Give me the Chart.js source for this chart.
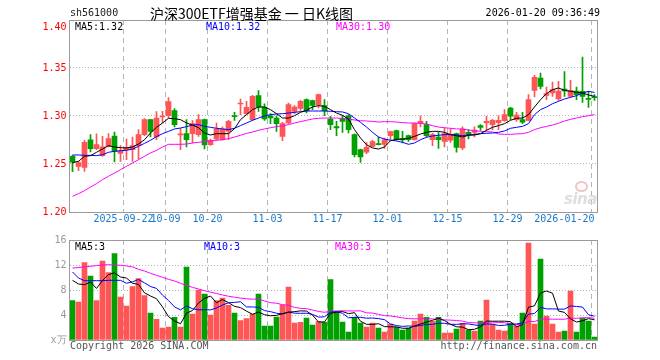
<!DOCTYPE html>
<html>
<head>
<meta charset="utf-8">
<script src="https://cdn.jsdelivr.net/npm/chart.js@4.4.1/dist/chart.umd.min.js"></script>
<style>
  body { margin: 0; background: #fff; }
  #wrap { position: relative; width: 660px; height: 360px; overflow: hidden; }
  canvas { position: absolute; left: 0; }
  #price { top: 0; }
  #vol { top: 230px; }
  .t { position: absolute; font: 10px "DejaVu Sans Mono", monospace; line-height: 12px; white-space: pre; }
  #title { font: 14px "Noto Sans CJK SC", sans-serif; line-height: 18px; color: #000; }
  #mark { font: italic bold 15px "DejaVu Sans", sans-serif; color: #dedede; letter-spacing: -0.5px; }
  #eye { position: absolute; left: 575px; top: 181px; width: 9px; height: 7px; border-radius: 50%; border: 2px solid #f2c4c4; }
</style>
</head>
<body>
<div id="wrap">
  <canvas id="price" width="660" height="230"></canvas>
  <canvas id="vol" width="660" height="130"></canvas>

  <div class="t" style="left:70px; top:7px; color:#222;">sh561000</div>
  <div class="t" id="title" style="left:150px; top:4px;">沪深300ETF增强基金 一 日K线图</div>
  <div class="t" style="right:60px; top:7px; color:#000;">2026-01-20 09:36:49</div>

  <div class="t" id="pMa5" style="left:75px; top:21px; color:#000;"></div>
  <div class="t" id="pMa10" style="left:206px; top:21px; color:#0000ff;"></div>
  <div class="t" id="pMa30" style="left:336px; top:21px; color:#ff00ff;"></div>

  <div class="t" id="vMa5" style="left:75px; top:241px; color:#000;"></div>
  <div class="t" id="vMa10" style="left:204px; top:241px; color:#0000ff;"></div>
  <div class="t" id="vMa30" style="left:335px; top:241px; color:#ff00ff;"></div>

  <div id="eye"></div>
  <div class="t" id="mark" style="left:564px; top:190px;">sina</div>

  <div class="t" style="left:70px; top:340px; color:#555;">Copyright 2026 SINA.COM</div>
  <div class="t" style="right:63px; top:340px; color:#555;">http://finance.sina.com.cn</div>
</div>

<script>
// 交易日
const dates = [
  '2025-09-09','2025-09-10','2025-09-11','2025-09-12','2025-09-15','2025-09-16','2025-09-17','2025-09-18','2025-09-19',
  '2025-09-22','2025-09-23','2025-09-24','2025-09-25','2025-09-26','2025-09-29','2025-09-30',
  '2025-10-09','2025-10-10','2025-10-13','2025-10-14','2025-10-15','2025-10-16','2025-10-17','2025-10-20','2025-10-21',
  '2025-10-22','2025-10-23','2025-10-24','2025-10-27','2025-10-28','2025-10-29','2025-10-30','2025-10-31',
  '2025-11-03','2025-11-04','2025-11-05','2025-11-06','2025-11-07','2025-11-10','2025-11-11','2025-11-12','2025-11-13',
  '2025-11-14','2025-11-17','2025-11-18','2025-11-19','2025-11-20','2025-11-21','2025-11-24','2025-11-25','2025-11-26',
  '2025-11-27','2025-11-28',
  '2025-12-01','2025-12-02','2025-12-03','2025-12-04','2025-12-05','2025-12-08','2025-12-09','2025-12-10','2025-12-11',
  '2025-12-12','2025-12-15','2025-12-16','2025-12-17','2025-12-18','2025-12-19','2025-12-22','2025-12-23','2025-12-24',
  '2025-12-25','2025-12-26','2025-12-29','2025-12-30','2025-12-31',
  '2026-01-05','2026-01-06','2026-01-07','2026-01-08','2026-01-09','2026-01-12','2026-01-13','2026-01-14','2026-01-15',
  '2026-01-16','2026-01-19','2026-01-20'
];

const opens = [
  1.258, 1.2476, 1.2465, 1.2753, 1.266, 1.2587, 1.2684, 1.2792, 1.2611, 1.265,
  1.265, 1.2691, 1.2806, 1.2962, 1.2781, 1.299, 1.3003, 1.3056, 1.2802, 1.2816,
  1.2816, 1.2806, 1.2962, 1.2701, 1.276, 1.2753, 1.284, 1.2997, 1.3125, 1.3024,
  1.2962, 1.3212, 1.3094, 1.3003, 1.2979, 1.2788, 1.2927, 1.3049, 1.308, 1.317,
  1.316, 1.3118, 1.3108, 1.2969, 1.2889, 1.2972, 1.3003, 1.2806, 1.265, 1.2622,
  1.2684, 1.2708, 1.2705, 1.2795, 1.2847, 1.2764, 1.2795, 1.2753, 1.292, 1.291,
  1.2753, 1.2781, 1.2736, 1.2747, 1.2816, 1.2667, 1.283, 1.283, 1.29, 1.2927,
  1.291, 1.2931, 1.2951, 1.3083, 1.2962, 1.2962, 1.2955, 1.3267, 1.3396, 1.3215,
  1.324, 1.3177, 1.3281, 1.3205, 1.326, 1.3257, 1.318, 1.3198
];
const highs = [
  1.259, 1.2528, 1.2747, 1.2806, 1.2813, 1.2788, 1.2816, 1.2833, 1.2691, 1.276,
  1.2781, 1.2858, 1.2972, 1.2965, 1.3045, 1.3049, 1.3191, 1.3076, 1.2872, 1.2962,
  1.2951, 1.3014, 1.2969, 1.276, 1.2927, 1.2886, 1.2955, 1.3038, 1.3177, 1.3153,
  1.3215, 1.3264, 1.3128, 1.3024, 1.3003, 1.2934, 1.3135, 1.3108, 1.3163, 1.318,
  1.3167, 1.3229, 1.317, 1.2997, 1.2944, 1.3007, 1.3014, 1.2813, 1.2656, 1.2726,
  1.2747, 1.2781, 1.2771, 1.2844, 1.2854, 1.284, 1.2802, 1.2927, 1.3003, 1.2944,
  1.2823, 1.283, 1.2875, 1.2868, 1.2823, 1.2886, 1.2858, 1.2886, 1.291, 1.2997,
  1.2965, 1.3003, 1.3066, 1.309, 1.3038, 1.3038, 1.3222, 1.3424, 1.3448, 1.3302,
  1.3354, 1.3361, 1.3462, 1.3372, 1.3302, 1.3615, 1.3257, 1.3222
];
const lows = [
  1.242, 1.243, 1.2424, 1.2625, 1.265, 1.258, 1.2677, 1.2521, 1.2528, 1.2545,
  1.2528, 1.2552, 1.2795, 1.2781, 1.2753, 1.2927, 1.2979, 1.2885, 1.265, 1.2677,
  1.2719, 1.2788, 1.2656, 1.2694, 1.2747, 1.2747, 1.2753, 1.2955, 1.3014, 1.3014,
  1.2955, 1.3049, 1.2955, 1.292, 1.284, 1.2743, 1.292, 1.3024, 1.3059, 1.3031,
  1.3066, 1.3083, 1.3003, 1.2858, 1.2795, 1.283, 1.2823, 1.2573, 1.2517, 1.2608,
  1.2677, 1.2698, 1.2663, 1.2747, 1.2747, 1.2719, 1.2736, 1.2747, 1.2885, 1.2781,
  1.2691, 1.2663, 1.2677, 1.2726, 1.2622, 1.265, 1.276, 1.2781, 1.2851, 1.2851,
  1.2858, 1.2858, 1.2944, 1.2962, 1.2944, 1.292, 1.2948, 1.3198, 1.3281, 1.317,
  1.3205, 1.3163, 1.3205, 1.3198, 1.317, 1.3142, 1.309, 1.3163
];
const closes = [
  1.252, 1.2514, 1.2726, 1.266, 1.2701, 1.268, 1.2764, 1.2632, 1.2635, 1.2674,
  1.2691, 1.2806, 1.2962, 1.284, 1.2979, 1.300, 1.3149, 1.291, 1.2813, 1.2753,
  1.292, 1.2962, 1.2698, 1.2747, 1.2865, 1.2865, 1.2944, 1.2993, 1.3132, 1.309,
  1.3205, 1.3094, 1.2969, 1.2979, 1.292, 1.292, 1.3118, 1.3094, 1.3153, 1.3056,
  1.3111, 1.3222, 1.3056, 1.291, 1.2875, 1.2944, 1.2858, 1.2597, 1.2573, 1.2674,
  1.2733, 1.2701, 1.2753, 1.2837, 1.2753, 1.275, 1.2753, 1.292, 1.2944, 1.2795,
  1.2806, 1.2753, 1.2816, 1.2806, 1.2674, 1.2865, 1.2806, 1.2854, 1.2882, 1.2944,
  1.2955, 1.2955, 1.3014, 1.2997, 1.301, 1.2937, 1.317, 1.3403, 1.3309, 1.3233,
  1.3274, 1.326, 1.326, 1.3267, 1.3222, 1.3205, 1.3174, 1.3191
];

// 均线
const ma5 = [
  1.2514, 1.2528, 1.258, 1.2587, 1.2622, 1.2656, 1.2691, 1.2677, 1.267, 1.2667,
  1.2677, 1.2708, 1.2753, 1.2823, 1.2882, 1.2927, 1.2976, 1.2972, 1.2962, 1.2927,
  1.2906, 1.2878, 1.2823, 1.2802, 1.2816, 1.2816, 1.2816, 1.2868, 1.2962, 1.3014,
  1.3066, 1.3094, 1.3094, 1.3066, 1.3024, 1.2979, 1.2979, 1.3003, 1.3038, 1.3059,
  1.3094, 1.3108, 1.3101, 1.3066, 1.3031, 1.3007, 1.2969, 1.2858, 1.2771, 1.2701,
  1.2667, 1.2656, 1.2677, 1.2743, 1.2757, 1.276, 1.2767, 1.2788, 1.2812, 1.283,
  1.284, 1.284, 1.283, 1.2806, 1.2795, 1.2781, 1.2799, 1.2802, 1.2816, 1.2851,
  1.2882, 1.29, 1.292, 1.2955, 1.2976, 1.2979, 1.3014, 1.3094, 1.317, 1.3233,
  1.3274, 1.3292, 1.3267, 1.3257, 1.3247, 1.324, 1.3219, 1.3205
];
const ma10 = [
  1.2594, 1.2594, 1.259, 1.259, 1.2587, 1.2597, 1.2622, 1.2632, 1.2639, 1.2642,
  1.2656, 1.2684, 1.2715, 1.2747, 1.2785, 1.2816, 1.284, 1.2865, 1.2875, 1.2889,
  1.2906, 1.291, 1.2892, 1.2882, 1.2872, 1.2865, 1.2858, 1.2872, 1.29, 1.2927,
  1.2955, 1.2979, 1.30, 1.3014, 1.3021, 1.3024, 1.3031, 1.3038, 1.3045, 1.3052,
  1.3052, 1.3052, 1.3052, 1.3049, 1.3045, 1.3042, 1.3024, 1.2979, 1.2934, 1.2885,
  1.283, 1.2781, 1.276, 1.2747, 1.274, 1.2726, 1.2705, 1.2719, 1.2753, 1.2778,
  1.2792, 1.2799, 1.2806, 1.2806, 1.2802, 1.2795, 1.2802, 1.2809, 1.2816, 1.282,
  1.2823, 1.283, 1.2844, 1.2872, 1.2882, 1.2892, 1.292, 1.3014, 1.3066, 1.3094,
  1.3128, 1.3153, 1.3177, 1.3194, 1.3212, 1.324, 1.3257, 1.3245
];
const ma30 = [
  1.2163, 1.2191, 1.2222, 1.226, 1.2295, 1.2337, 1.2372, 1.2406, 1.2441, 1.2476,
  1.251, 1.2545, 1.258, 1.2615, 1.2642, 1.2677, 1.2705, 1.2705, 1.2705, 1.2708,
  1.2719, 1.2726, 1.2733, 1.274, 1.2747, 1.2753, 1.2764, 1.2781, 1.2799, 1.2819,
  1.2833, 1.2851, 1.2865, 1.2878, 1.2889, 1.2899, 1.291, 1.2927, 1.2941, 1.2955,
  1.2969, 1.2976, 1.2979, 1.2979, 1.2979, 1.2976, 1.2969, 1.2958, 1.2951, 1.2948,
  1.2944, 1.2937, 1.2941, 1.2941, 1.2937, 1.2931, 1.2927, 1.2927, 1.2924, 1.2917,
  1.2899, 1.2885, 1.2878, 1.2872, 1.2865, 1.2865, 1.2854, 1.2847, 1.284, 1.2837,
  1.2833, 1.2813, 1.2809, 1.2809, 1.2813, 1.2816, 1.283, 1.2858, 1.2878, 1.2892,
  1.2906, 1.2924, 1.2948, 1.2965, 1.2979, 1.2993, 1.3003, 1.3014
];

// 成交量 (万)
const volumes = [
  6.29, 6.08, 12.37, 10.24, 6.29, 12.64, 10.77, 13.81, 6.88, 5.44,
  8.53, 9.81, 7.09, 4.32, 3.31, 1.92, 2.08, 3.63, 2.08, 11.68,
  4.16, 8.0, 7.36, 4.0, 6.29, 6.72, 5.55, 4.32, 3.09, 3.41,
  4.16, 7.36, 2.24, 2.24, 3.68, 5.6, 8.48, 2.72, 2.83, 3.52,
  2.4, 2.93, 2.83, 9.65, 4.48, 2.88, 1.28, 3.63, 2.72, 2.08,
  2.72, 1.92, 1.28, 2.56, 2.03, 1.6, 1.92, 3.04, 4.16, 3.63,
  2.99, 3.63, 1.12, 1.12, 1.76, 2.67, 1.6, 1.44, 3.04, 6.4,
  2.56, 1.6, 1.44, 2.72, 2.24, 4.32, 15.52, 2.56, 12.96, 3.84,
  2.56, 1.28, 1.44, 7.84, 1.28, 3.52, 3.04, 0.48
];
const volMa5 = [
  9.55, 8.96, 8.85, 9.28, 8.25, 9.52, 10.46, 10.75, 10.08, 9.91,
  9.09, 8.89, 7.55, 7.04, 6.61, 5.29, 3.74, 3.05, 2.60, 4.28,
  4.73, 5.91, 6.66, 7.04, 5.96, 6.47, 5.98, 5.38, 5.19, 4.62,
  4.11, 4.47, 4.05, 3.88, 3.94, 4.22, 4.45, 4.54, 4.66, 4.63,
  3.99, 2.88, 2.90, 4.27, 4.46, 4.55, 4.22, 4.38, 3.00, 2.52,
  2.49, 2.61, 2.14, 2.11, 2.10, 1.88, 1.88, 2.23, 2.55, 2.87,
  3.15, 3.49, 3.11, 2.50, 2.12, 2.06, 1.65, 1.72, 2.10, 3.03,
  3.01, 3.01, 3.01, 2.94, 2.11, 2.46, 5.25, 5.47, 7.52, 7.84,
  7.49, 4.64, 4.42, 3.39, 2.88, 3.07, 3.42, 3.23
];
const volMa10 = [
  10.88, 9.92, 9.49, 9.49, 9.49, 9.49, 9.55, 9.55, 9.55, 9.08,
  9.31, 9.68, 9.15, 8.56, 8.26, 7.19, 6.32, 5.30, 4.82, 5.45,
  5.01, 4.83, 4.85, 4.82, 5.12, 5.60, 5.95, 6.02, 6.12, 5.29,
  5.29, 5.23, 4.71, 4.54, 4.28, 4.17, 4.46, 4.30, 4.27, 4.28,
  4.11, 3.66, 3.72, 4.46, 4.54, 4.27, 3.55, 3.64, 3.63, 3.49,
  3.52, 3.42, 3.26, 2.56, 2.31, 2.18, 2.25, 2.19, 2.33, 2.49,
  2.51, 2.68, 2.67, 2.52, 2.50, 2.60, 2.57, 2.41, 2.30, 2.58,
  2.53, 2.33, 2.36, 2.52, 2.57, 2.74, 4.13, 4.24, 5.23, 4.98,
  4.98, 4.94, 4.94, 5.46, 5.36, 5.28, 4.03, 3.82
];
const volMa30 = [
  11.5, 11.6, 11.7, 11.8, 11.9, 12.0, 12.05, 12.0, 11.95, 11.85,
  11.7, 11.31, 11.04, 10.67, 10.35, 10.03, 9.71, 9.44, 9.07, 8.75,
  8.43, 8.16, 7.89, 7.65, 7.45, 7.2, 7.0, 6.85, 6.7, 6.61,
  6.53, 6.58, 6.24, 5.97, 5.89, 5.65, 5.57, 5.21, 5.07, 5.01,
  4.80, 4.57, 4.43, 4.61, 4.65, 4.68, 4.65, 4.65, 4.67, 4.35,
  4.31, 4.10, 3.90, 3.85, 3.71, 3.54, 3.42, 3.38, 3.41, 3.42,
  3.38, 3.26, 3.22, 3.18, 3.12, 3.02, 2.79, 2.75, 2.75, 2.85,
  2.86, 2.81, 2.77, 2.53, 2.46, 2.51, 2.98, 2.95, 3.29, 3.35,
  3.34, 3.32, 3.33, 3.50, 3.48, 3.54, 3.58, 3.49
];

// 坐标轴刻度
const tickDates = ['2025-09-22','2025-10-09','2025-10-20','2025-11-03','2025-11-17','2025-12-01','2025-12-15','2025-12-29','2026-01-20'];
const tickLabels = ['2025-09-22','10-09','10-20','11-03','11-17','12-01','12-15','12-29','2026-01-20'];
const priceTicks = [1.20, 1.25, 1.30, 1.35, 1.40];
const volTicks = [0, 4, 8, 12, 16];

/*-----------------------*/

const upColor = '#ff5555';
const downColor = '#00a000';
const gridColor = '#b4b4b4';
const clear = 'rgba(0,0,0,0)';
const candleColors = closes.map((c, i) => c >= opens[i] ? upColor : downColor);

Chart.defaults.font.family = '"DejaVu Sans Mono", monospace';
Chart.defaults.font.size = 10;

// x 轴: 每根K线占一格, K线画在格子中间, 竖线画在格子左边
const gridIdx = tickDates.map(d => dates.indexOf(d));
const gridSet = new Set(gridIdx);
const lastIdx = gridIdx[gridIdx.length - 1];
const xLabels = new Map();
gridIdx.forEach((idx, k) => xLabels.set(idx, k < gridIdx.length - 1 ? tickLabels[k] : ''));
xLabels.set(lastIdx + 0.5, tickLabels[tickLabels.length - 1]);
const xTickValues = [0, ...gridIdx, lastIdx + 0.5];

// 最上面的价格标签往下挪一点 (和原图一样不贴着外框)
const priceMax = priceTicks[priceTicks.length - 1];
const topLabelValue = priceMax - 0.0072;

const toPoints = arr => arr.map((v, i) => ({ x: i + 0.5, y: v }));
const truncate = (v, n) => (Math.floor(v * Math.pow(10, n) + 1e-9) / Math.pow(10, n)).toFixed(n);

// 外框
const boxPlugin = {
    id: 'box',
    afterDraw(chart) {
        const a = chart.chartArea;
        const ctx = chart.ctx;
        ctx.save();
        ctx.strokeStyle = '#9a9a9a';
        ctx.lineWidth = 1;
        const x0 = Math.floor(a.left) + 0.5, y0 = Math.floor(a.top) + 0.5;
        const x1 = Math.floor(a.right) + 0.5, y1 = Math.floor(a.bottom) + 0.5;
        ctx.strokeRect(x0, y0, x1 - x0, y1 - y0);
        ctx.restore();
    }
};

const lineSet = (data, color) => ({
    type: 'line',
    data: toPoints(data),
    borderColor: color,
    borderWidth: 1,
    pointRadius: 0,
    tension: 0,
    order: 1
});

const xAxis = (showLabels) => ({
    type: 'linear',
    min: 0,
    max: dates.length,
    offset: false,
    afterBuildTicks: s => { s.ticks = (showLabels ? xTickValues : gridIdx).map(v => ({ value: v })); },
    afterFit: s => { s.height = showLabels ? 18 : 20; },
    grid: {
        offset: false,
        drawTicks: false,
        color: c => (c.tick && gridSet.has(c.tick.value)) ? gridColor : clear
    },
    border: { display: false, dash: [5, 4] },
    ticks: {
        display: showLabels,
        autoSkip: false,
        maxRotation: 0,
        align: 'inner',
        padding: 1,
        color: '#1a78c8',
        callback: v => xLabels.has(v) ? xLabels.get(v) : ''
    }
});

// K线图
const priceChart = new Chart(document.getElementById('price'), {
    type: 'bar',
    data: {
        datasets: [
            {
                // 影线
                data: dates.map((d, i) => ({ x: i + 0.5, y: [lows[i], highs[i]] })),
                backgroundColor: candleColors,
                borderWidth: 0,
                barThickness: 1,
                maxBarThickness: 1,
                grouped: false,
                order: 3
            },
            {
                // 实体
                data: dates.map((d, i) => ({ x: i + 0.5, y: [Math.min(opens[i], closes[i]), Math.max(opens[i], closes[i])] })),
                backgroundColor: candleColors,
                borderWidth: 0,
                barThickness: 5,
                maxBarThickness: 5,
                minBarLength: 1,
                grouped: false,
                order: 2
            },
            lineSet(ma5, '#000000'),
            lineSet(ma10, '#0000ff'),
            lineSet(ma30, '#ff00ff')
        ]
    },
    options: {
        responsive: false,
        animation: false,
        layout: { padding: { left: 0, right: 62.5, top: 20, bottom: 0 } },
        plugins: { legend: { display: false }, tooltip: { enabled: false } },
        scales: {
            x: xAxis(true),
            y: {
                min: priceTicks[0],
                max: priceMax,
                afterBuildTicks: s => { s.ticks = [...priceTicks, topLabelValue].map(v => ({ value: v })); },
                afterFit: s => { s.width = 69.5; },
                grid: { drawTicks: false, color: c => (c.tick && c.tick.value === topLabelValue) ? clear : gridColor },
                border: { display: false, dash: [1, 2] },
                ticks: {
                    color: '#ff0000',
                    padding: 3,
                    callback: v => v === priceMax ? '' : (v === topLabelValue ? priceMax.toFixed(2) : v.toFixed(2))
                }
            }
        }
    },
    plugins: [boxPlugin]
});

// 成交量
const volChart = new Chart(document.getElementById('vol'), {
    type: 'bar',
    data: {
        datasets: [
            {
                data: toPoints(volumes),
                backgroundColor: candleColors,
                borderWidth: 0,
                barThickness: 5,
                maxBarThickness: 5,
                grouped: false,
                order: 2
            },
            lineSet(volMa5, '#000000'),
            lineSet(volMa10, '#0000ff'),
            lineSet(volMa30, '#ff00ff')
        ]
    },
    options: {
        responsive: false,
        animation: false,
        layout: { padding: { left: 0, right: 62.5, top: 10, bottom: 0 } },
        plugins: { legend: { display: false }, tooltip: { enabled: false } },
        scales: {
            x: xAxis(false),
            y: {
                min: volTicks[0],
                max: volTicks[volTicks.length - 1],
                afterBuildTicks: s => { s.ticks = volTicks.map(v => ({ value: v })); },
                afterFit: s => { s.width = 69.5; },
                grid: { drawTicks: false, color: gridColor },
                border: { display: false, dash: [1, 2] },
                ticks: { color: '#999999', padding: 3, callback: v => v === 0 ? 'x万' : String(v) }
            }
        }
    },
    plugins: [boxPlugin]
});

// 均线图例
document.getElementById('pMa5').textContent = 'MA5:' + truncate(ma5[ma5.length - 1], 2);
document.getElementById('pMa10').textContent = 'MA10:' + truncate(ma10[ma10.length - 1], 2);
document.getElementById('pMa30').textContent = 'MA30:' + truncate(ma30[ma30.length - 1], 2);
document.getElementById('vMa5').textContent = 'MA5:' + truncate(volMa5[volMa5.length - 1], 0);
document.getElementById('vMa10').textContent = 'MA10:' + truncate(volMa10[volMa10.length - 1], 0);
document.getElementById('vMa30').textContent = 'MA30:' + truncate(volMa30[volMa30.length - 1], 0);
</script>
</body>
</html>
